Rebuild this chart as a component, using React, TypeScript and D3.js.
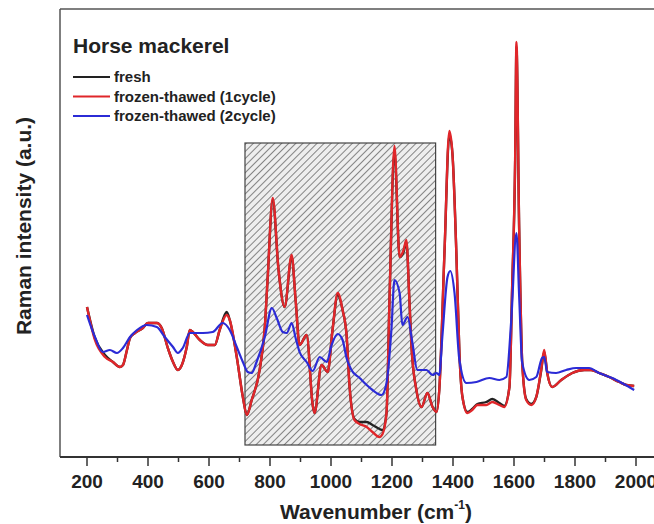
import React from "react";
import * as d3 from "d3";

// ---- data (wavenumber in cm-1, intensity in arbitrary units) ----
const wnRed = [200,226,259,285,308,318,331,341,357,383,400,429,445,465,482,498,511,527,537,547,570,596,619,635,658,668,691,711,724,740,766,783,792,809,828,848,871,884,897,920,940,946,969,989,1005,1022,1038,1051,1061,1077,1094,1117,1136,1159,1169,1182,1192,1208,1225,1238,1247,1257,1264,1280,1297,1316,1333,1346,1355,1372,1388,1398,1411,1421,1431,1447,1463,1480,1509,1529,1552,1568,1585,1594,1604,1608,1617,1627,1640,1657,1673,1689,1699,1709,1725,1755,1791,1830,1853,1879,1912,1945,1968,1994];
const redVals = [150,117,100,95,90,92,107,119,124,129,134,134,129,109,95,87,92,110,127,125,117,112,112,127,142,137,100,60,42,57,87,130,177,259,187,150,202,157,112,122,52,44,92,85,127,164,147,122,70,37,33,30,25,20,23,44,160,311,200,207,217,157,110,67,50,64,50,45,67,204,326,304,204,104,60,44,47,52,52,55,52,50,70,170,304,415,227,94,57,52,60,87,107,84,70,77,84,87,87,84,80,75,72,71];
const blackVals = [150,119,102,95,90,92,107,119,124,129,134,134,129,109,95,87,92,110,127,125,117,112,112,127,145,137,100,60,42,57,87,130,177,257,187,150,200,157,112,122,52,44,92,85,127,162,147,122,70,38,35,35,32,28,27,44,160,305,200,205,215,157,110,67,50,64,50,45,67,204,322,304,204,104,60,45,48,53,55,58,54,51,70,170,300,410,227,94,58,53,60,86,105,84,70,77,84,87,87,84,80,75,72,71];
const wnBlue = [200,226,252,275,298,318,341,364,396,429,455,482,498,514,537,554,580,612,645,668,691,711,727,740,756,783,806,822,842,855,871,884,897,920,940,963,986,1002,1022,1038,1051,1067,1094,1117,1136,1166,1182,1198,1208,1225,1234,1251,1267,1283,1313,1333,1346,1355,1365,1382,1391,1405,1421,1444,1477,1519,1552,1575,1591,1608,1617,1627,1650,1673,1692,1699,1709,1738,1771,1804,1846,1879,1922,1954,1994];
const blueVals = [142,120,105,107,104,109,120,127,132,130,120,110,104,109,124,124,124,125,134,127,110,95,85,84,95,120,149,139,125,124,134,119,105,95,86,100,95,112,123,117,99,87,79,72,67,62,74,127,177,164,132,140,114,87,87,82,84,82,120,180,186,164,97,74,75,79,77,80,137,224,160,94,77,80,99,100,85,84,87,89,89,84,79,74,67];

const xTicks = [200, 400, 600, 800, 1000, 1200, 1400, 1600, 1800, 2000];
const xMinorTicks = [300, 500, 700, 900, 1100, 1300, 1500, 1700, 1900];
const hatchRange = [718, 1343];
const hatchIntensity = [12, 314];

const seriesNames = ["fresh", "frozen-thawed (1cycle)", "frozen-thawed (2cycle)"];
const seriesColors = ["#222222", "#e0262a", "#2b2bd6"];
const legendTitle = "Horse mackerel";

export default function App() {
  const W = 654, H = 524;
  const left = 60, top = 9, bottom = 457;
  const x = d3.scaleLinear().domain([200, 2000]).range([87, 636]);
  const y = d3.scaleLinear().domain([0, 448]).range([bottom, top]);

  const line = d3
    .line<[number, number]>()
    .x((d) => x(d[0]))
    .y((d) => y(d[1]))
    .curve(d3.curveMonotoneX);

  const black = line(wnRed.map((w, i) => [w, blackVals[i]] as [number, number]));
  const red = line(wnRed.map((w, i) => [w, redVals[i]] as [number, number]));
  const blue = line(wnBlue.map((w, i) => [w, blueVals[i]] as [number, number]));

  const font = "'Liberation Sans', Arial, sans-serif";
  const hx0 = x(hatchRange[0]), hx1 = x(hatchRange[1]);
  const hy0 = y(hatchIntensity[1]), hy1 = y(hatchIntensity[0]);

  return (
    <svg
      width={W}
      height={H}
      style={{ position: "absolute", left: 0, top: 0, background: "#fff" }}
      fontFamily={font}
    >
      <defs>
        <pattern id="hatch" patternUnits="userSpaceOnUse" width="5" height="5" patternTransform="rotate(45)">
          <line x1="0" y1="0" x2="0" y2="5" stroke="#4a4a4a" strokeWidth="1.3" />
        </pattern>
        <clipPath id="plotclip">
          <rect x={left} y={top} width={W - left} height={bottom - top} />
        </clipPath>
      </defs>

      {/* hatched region */}
      <rect x={hx0} y={hy0} width={hx1 - hx0} height={hy1 - hy0} fill="#eeeeee" />
      <rect x={hx0} y={hy0} width={hx1 - hx0} height={hy1 - hy0} fill="url(#hatch)" stroke="#444" strokeWidth="1.2" />

      {/* spectra */}
      <g clipPath="url(#plotclip)" fill="none" strokeLinejoin="round">
        <path d={black || ""} stroke={seriesColors[0]} strokeWidth={2.4} />
        <path d={red || ""} stroke={seriesColors[1]} strokeWidth={2.4} />
        <path d={blue || ""} stroke={seriesColors[2]} strokeWidth={2.2} />
      </g>

      {/* frame */}
      <line x1={left} y1={top} x2={W} y2={top} stroke="#555" strokeWidth={1.5} />
      <line x1={left} y1={top} x2={left} y2={bottom} stroke="#555" strokeWidth={1.5} />
      <line x1={left} y1={bottom} x2={W} y2={bottom} stroke="#333" strokeWidth={1.8} />

      {/* ticks */}
      {xTicks.map((t) => (
        <g key={t}>
          <line x1={x(t)} x2={x(t)} y1={bottom} y2={bottom + 9} stroke="#333" strokeWidth={1.5} />
          <text x={x(t)} y={488} textAnchor="middle" fontSize={19} fontWeight="bold" fill="#222">
            {t}
          </text>
        </g>
      ))}
      {xMinorTicks.map((t) => (
        <line key={t} x1={x(t)} x2={x(t)} y1={bottom} y2={bottom + 5} stroke="#333" strokeWidth={1.5} />
      ))}

      {/* axis titles */}
      <text x={376} y={519} textAnchor="middle" fontSize={21} fontWeight="bold" fill="#222">
        Wavenumber (cm
        <tspan fontSize={12} dy={-10}>-1</tspan>
        <tspan dy={10}>)</tspan>
      </text>
      <text
        transform="translate(31,226) rotate(-90)"
        textAnchor="middle"
        fontSize={21}
        fontWeight="bold"
        fill="#222"
      >
        Raman intensity (a.u.)
      </text>

      {/* legend */}
      <text x={73} y={53} fontSize={21} fontWeight="bold" fill="#222">
        {legendTitle}
      </text>
      {seriesNames.map((n, i) => {
        const ly = 77 + i * 19.5;
        return (
          <g key={n}>
            <line x1={73} x2={110} y1={ly} y2={ly} stroke={seriesColors[i]} strokeWidth={2.2} />
            <text x={114} y={ly + 5} fontSize={15} fontWeight="bold" fill="#222">
              {n}
            </text>
          </g>
        );
      })}
    </svg>
  );
}
